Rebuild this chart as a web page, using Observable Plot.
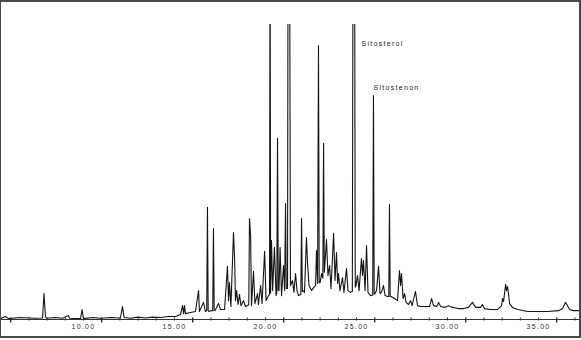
<!DOCTYPE html>
<html><head><meta charset="utf-8">
<script src="https://cdn.jsdelivr.net/npm/d3@7"></script>
<script src="https://cdn.jsdelivr.net/npm/@observablehq/plot@0.6"></script>
<style>
html,body{margin:0;padding:0;background:#fff;}
#wrap{position:relative;width:581px;height:340px;overflow:hidden;}
#border{position:absolute;left:0;top:0;width:581px;height:338px;box-sizing:border-box;border:2px solid #4a4a4a;border-left-width:1px;pointer-events:none;}
#wrap svg text{letter-spacing:1.3px;}
</style></head><body>
<div id="wrap"><div id="border"></div></div>
<script>
// Retention time (min) and abundance (% of plot height)
const times = [5.44,5.71,5.88,6.54,7.36,7.75,7.83,7.91,7.97,8.46,8.85,9.18,9.23,9.84,9.92,10.0,10.5,10.93,11.48,12.03,12.14,12.23,12.58,12.97,13.41,13.79,14.23,14.67,15.06,15.33,15.44,15.50,15.55,15.60,15.88,16.15,16.32,16.37,16.59,16.70,16.77,16.81,16.85,16.90,16.98,17.10,17.14,17.18,17.22,17.42,17.53,17.75,17.91,17.97,18.02,18.10,18.24,18.30,18.35,18.41,18.49,18.57,18.65,18.79,18.90,19.01,19.08,19.12,19.18,19.23,19.34,19.42,19.56,19.61,19.73,19.81,19.95,20.03,20.17,20.22,20.25,20.28,20.33,20.39,20.49,20.58,20.62,20.66,20.70,20.74,20.80,20.88,20.99,21.05,21.10,21.14,21.18,21.21,21.24,21.32,21.37,21.48,21.56,21.65,21.73,21.81,21.94,21.98,22.02,22.06,22.14,22.25,22.31,22.39,22.53,22.64,22.75,22.80,22.86,22.91,22.95,23.00,23.08,23.15,23.19,23.23,23.27,23.35,23.43,23.52,23.60,23.74,23.82,23.90,23.96,24.01,24.09,24.23,24.31,24.45,24.53,24.67,24.77,24.81,24.89,24.93,24.97,25.05,25.14,25.27,25.33,25.38,25.47,25.55,25.63,25.77,25.89,25.93,25.97,26.02,26.10,26.21,26.29,26.37,26.48,26.57,26.70,26.77,26.81,26.85,26.90,27.09,27.25,27.36,27.42,27.47,27.56,27.64,27.72,27.86,27.97,28.05,28.24,28.35,28.52,28.79,29.01,29.12,29.23,29.40,29.51,29.62,29.84,30.05,30.27,30.60,30.88,31.15,31.37,31.54,31.81,31.92,32.03,32.36,32.75,32.97,33.02,33.08,33.19,33.24,33.30,33.41,33.57,33.85,34.40,35.49,36.10,36.32,36.48,36.59,36.70,36.92,37.36];
const intensity = [0.3,1.0,0.3,0.7,0.4,0.5,8.8,1.0,0.4,0.7,0.4,1.4,0.4,0.3,3.4,0.3,0.7,0.4,0.7,0.5,4.4,0.7,0.4,0.8,0.5,0.8,0.7,1.0,1.0,1.7,4.7,2.0,4.7,2.0,2.4,2.7,9.8,2.7,5.8,2.7,3.0,38.0,3.0,2.7,3.0,3.0,30.8,3.2,3.0,5.4,3.4,3.4,18.0,6.4,12.5,4.4,29.5,21.0,6.4,9.8,5.1,8.5,4.7,6.4,4.4,4.7,5.0,34.2,28.5,4.7,16.3,5.4,8.8,5.1,11.5,5.4,23.1,6.4,8.1,8.5,140,9.0,26.8,9.8,24.4,8.1,9.0,61.4,10.0,9.8,24.4,8.1,18.3,9.8,39.3,10.5,10.5,10.5,140,140,11.5,13.2,9.2,15.6,9.8,8.1,8.5,34.2,9.5,9.8,9.2,27.8,19.0,11.5,9.8,10.8,11.5,23.4,12.2,92.9,12.5,12.5,15.6,14.0,59.7,16.0,19.3,27.1,14.9,18.3,10.5,29.2,13.2,22.7,12.2,15.6,9.8,14.2,9.2,17.3,9.8,9.2,9.5,140,140,11.0,11.5,14.9,9.8,20.7,14.9,20.0,9.8,25.1,9.2,8.1,8.3,75.9,8.6,8.8,9.8,18.0,8.8,9.2,11.5,8.1,7.8,7.8,39.0,7.8,7.8,7.1,6.4,16.6,11.5,15.6,7.1,8.8,5.8,5.1,6.4,4.7,9.5,4.7,4.4,4.4,4.4,7.1,4.7,4.4,5.8,4.4,4.1,4.7,4.1,3.7,3.7,4.1,5.8,4.1,4.1,5.1,3.7,3.4,3.4,4.7,7.1,6.1,11.9,9.8,11.2,5.4,4.1,3.4,2.7,2.7,3.0,3.7,5.8,4.7,3.4,3.0,3.0];

// Axis ticks and labels
const labelTicks = [5, 10, 15, 20, 25, 30, 35];
const majorTicks = [6, 11, 16, 21, 26, 31, 36];
const minorTicks = [7,8,9,10,12,13,14,15,17,18,19,20,22,23,24,25,27,28,29,30,32,33,34,35,37];

// Peak annotations
const peakNames = ["Sitosterol", "Sitostenon"];
const peakLabelTimes = [25.27, 25.93];
const peakLabelLevels = [93.6, 78.6];

const trace = times.map((t, i) => ({t, v: intensity[i]}));
const notes = peakNames.map((n, i) => ({n, t: peakLabelTimes[i], v: peakLabelLevels[i]}));

const chart = Plot.plot({
  width: 581,
  height: 340,
  marginLeft: 0,
  marginRight: 0,
  marginTop: 24,
  marginBottom: 21,
  style: {fontFamily: "Liberation Sans, Arial, sans-serif", fontSize: "7px", color: "#333", background: "#fff"},
  x: {domain: [5.44, 37.36], axis: null, label: null},
  y: {domain: [0, 100], axis: null, label: null},
  marks: [
    Plot.ruleY([0], {stroke: "#333", strokeWidth: 1}),
    Plot.axisX(minorTicks, {tickSize: 3, tickFormat: () => "", dy: -1.5, stroke: "#333", label: null}),
    Plot.axisX(majorTicks, {tickSize: 5, tickFormat: () => "", dy: -1.5, stroke: "#222", strokeWidth: 1.3, label: null}),
    Plot.axisX(labelTicks, {tickSize: 0, tickPadding: 5, tickFormat: d3.format(".2f"), fontSize: 7, fill: "#333", label: null}),
    Plot.line(trace, {x: "t", y: "v", stroke: "#151515", strokeWidth: 1.1, clip: true}),
    Plot.text(notes, {x: "t", y: "v", text: "n", textAnchor: "start", fontSize: 7, fill: "#222"})
  ]
});
document.getElementById("wrap").prepend(chart);
</script>
</body></html>
